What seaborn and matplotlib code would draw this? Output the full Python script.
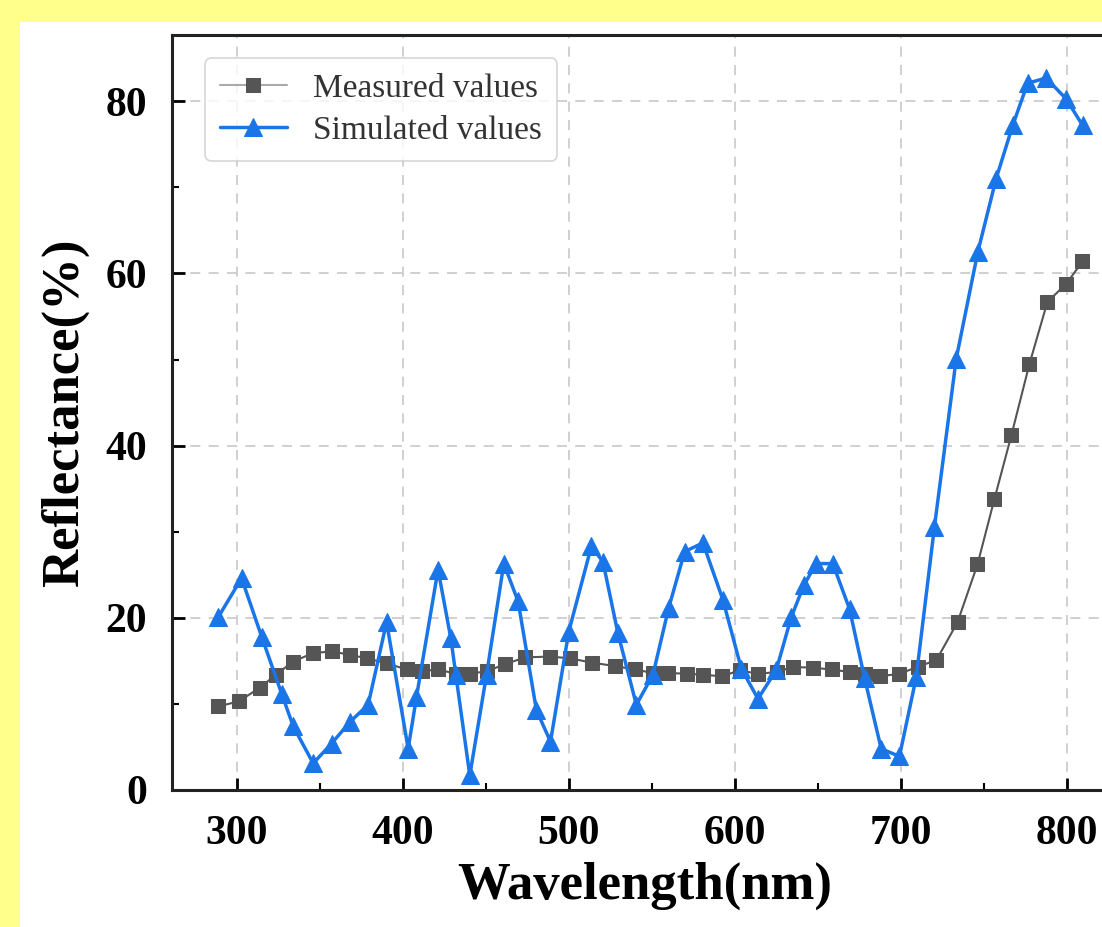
import matplotlib
matplotlib.use("Agg")
import matplotlib.pyplot as plt
import seaborn as sns
from matplotlib.patches import Rectangle
from matplotlib.ticker import MultipleLocator


# measured reflectance (grey squares)
measured_nm = [288.7, 301.3, 314.0, 323.6, 333.8, 345.8, 357.3, 368.1, 378.3, 390.4,
               402.4, 411.4, 421.1, 431.9, 440.3, 450.5, 461.4, 473.4, 488.4, 500.5,
               513.7, 527.6, 539.6, 550.4, 559.5, 570.9, 580.6, 592.0, 602.8, 613.7,
               625.1, 634.7, 646.7, 658.2, 669.0, 678.0, 687.0, 699.0, 709.9, 721.3,
               734.0, 746.0, 756.2, 766.4, 777.3, 788.1, 799.5, 809.2]
measured_r = [9.7, 10.3, 11.9, 13.4, 14.9, 15.9, 16.1, 15.7, 15.3, 14.7,
              14.0, 13.8, 14.0, 13.5, 13.5, 13.8, 14.6, 15.4, 15.5, 15.3,
              14.8, 14.4, 14.0, 13.6, 13.6, 13.5, 13.4, 13.2, 13.9, 13.5,
              13.7, 14.3, 14.2, 14.0, 13.7, 13.5, 13.2, 13.5, 14.3, 15.1,
              19.5, 26.2, 33.8, 41.2, 49.5, 56.7, 58.8, 61.4]

# simulated reflectance (blue triangles)
simulated_nm = [288.9, 302.9, 315.0, 327.0, 334.0, 346.0, 357.1, 368.1, 379.1, 390.2,
                403.2, 408.2, 421.2, 428.9, 431.9, 440.3, 450.4, 460.8, 469.4, 480.4,
                488.9, 499.9, 513.5, 520.5, 529.5, 540.6, 550.6, 560.0, 569.7, 580.7,
                592.7, 603.8, 613.8, 624.8, 633.9, 641.5, 648.9, 658.9, 669.0, 678.0,
                688.0, 699.0, 709.1, 720.1, 733.2, 746.2, 757.2, 767.2, 776.2, 787.3,
                799.3, 809.3]
simulated_r = [20.1, 24.6, 17.8, 11.2, 7.4, 3.1, 5.4, 7.9, 9.9, 19.5,
               4.8, 10.8, 25.6, 17.6, 13.4, 1.7, 13.4, 26.3, 21.9, 9.3,
               5.6, 18.4, 28.3, 26.5, 18.2, 9.9, 13.4, 21.1, 27.7, 28.7,
               22.1, 14.1, 10.6, 13.9, 20.1, 23.8, 26.3, 26.3, 21.0, 13.0,
               4.8, 3.9, 13.1, 30.6, 50.1, 62.5, 71.0, 77.2, 82.1, 82.7,
               80.3, 77.2]

x_ticks = [300, 400, 500, 600, 700, 800]
y_ticks = [0, 20, 40, 60, 80]

GREY = "#555555"
BLUE = "#1a75e8"

sns.set_theme(style="ticks")
plt.rcParams["font.family"] = ["Liberation Serif", "DejaVu Serif"]

W, H = 1102, 927
fig = plt.figure(figsize=(W / 100, H / 100), dpi=100, facecolor="#ffff8c")
# white panel inside the yellow frame
fig.add_artist(Rectangle((20 / W, 0), 1, 1 - 22 / H, transform=fig.transFigure,
                         facecolor="white", edgecolor="none", zorder=0))

ax = fig.add_axes([172 / W, 1 - 790 / H, (1117 - 172) / W, (790 - 35) / H])
ax.set_facecolor("white")

sns.lineplot(x=measured_nm, y=measured_r, ax=ax, color=GREY, linewidth=1.5,
             marker="s", markersize=10, markerfacecolor=GREY, markeredgecolor=GREY,
             label="Measured values", zorder=3)
sns.lineplot(x=simulated_nm, y=simulated_r, ax=ax, color=BLUE, linewidth=2.5,
             marker="^", markersize=13, markerfacecolor=BLUE, markeredgecolor=BLUE,
             label="Simulated values", zorder=4)

ax.set_xlim(261, 830)
ax.set_ylim(0, 87.7)
ax.set_xticks(x_ticks)
ax.set_yticks(y_ticks)
ax.xaxis.set_minor_locator(MultipleLocator(50))
ax.yaxis.set_minor_locator(MultipleLocator(10))

ax.grid(True, which="major", linestyle=(0, (6, 5)), color="#c8c8c8", linewidth=1.2)
ax.set_axisbelow(True)

ax.tick_params(which="major", direction="in", length=9, width=2, labelsize=30,
               pad=18, top=False, right=False, colors="black", labelcolor="black")
ax.tick_params(which="minor", direction="in", length=5, width=1.5, top=False,
               right=False, colors="black")
for lab in ax.get_xticklabels() + ax.get_yticklabels():
    lab.set_fontweight("bold")

for side in ["left", "bottom", "top", "right"]:
    ax.spines[side].set_linewidth(2.2)
    ax.spines[side].set_color("#222222")

ax.set_xlabel("Wavelength(nm)", fontsize=38, fontweight="bold", labelpad=6, color="black")
ax.set_ylabel("Reflectance(%)", fontsize=38, fontweight="bold", labelpad=12, color="black")

leg = ax.legend(loc="upper left", bbox_to_anchor=(0.035, 0.9695), borderaxespad=0,
                fontsize=24, frameon=True, fancybox=True, edgecolor="#cccccc",
                handlelength=2.0, handletextpad=0.8, labelspacing=0.35, borderpad=0.45)
leg.get_frame().set_linewidth(1.2)
leg.get_lines()[0].set_color("#aaaaaa")
for t in leg.get_texts():
    t.set_color("#333333")

fig.savefig("out.png", dpi=100, facecolor=fig.get_facecolor())
